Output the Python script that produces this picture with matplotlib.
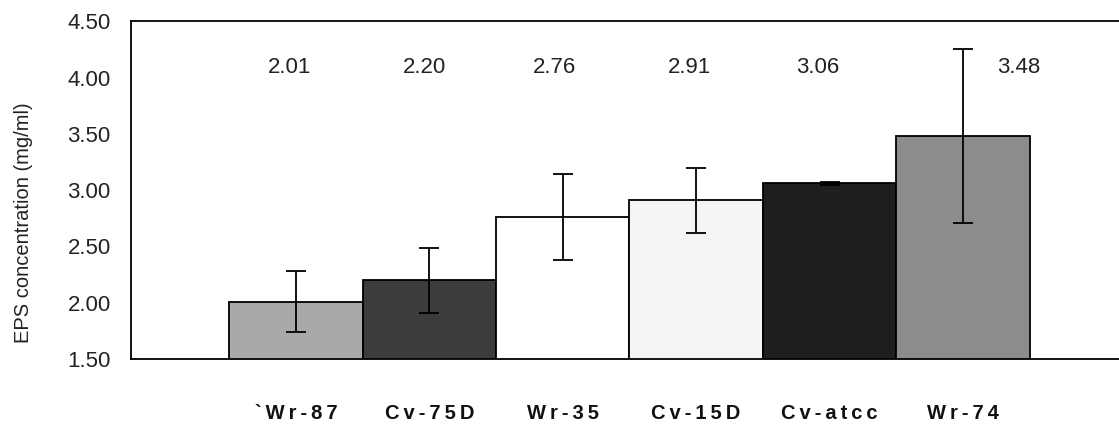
import matplotlib
matplotlib.use("Agg")
import matplotlib.pyplot as plt
import numpy as np

plt.rcParams['font.family'] = ['Liberation Sans', 'DejaVu Sans']

# data
strains = ['`Wr-87', 'Cv-75D', 'Wr-35', 'Cv-15D', 'Cv-atcc', 'Wr-74']
eps_mean = [2.01, 2.20, 2.76, 2.91, 3.06, 3.48]
eps_err = [0.27, 0.29, 0.38, 0.29, 0.01, 0.77]
bar_colors = ['#a9a9a9', '#3c3c3c', '#ffffff', '#f4f4f4', '#1e1e1e', '#8c8c8c']
label_shift = [-0.05, -0.04, -0.06, -0.05, -0.09, 0.42]  # value labels sit a bit off centre

fig = plt.figure(figsize=(11.19, 4.24), dpi=100)
ax = fig.add_axes([0.1175, 0.153, 0.8825, 0.797])

x = np.arange(len(strains))
ax.bar(x, eps_mean, width=1.0, bottom=0, color=bar_colors,
       edgecolor='black', linewidth=1.3, zorder=2)
ax.errorbar(x, eps_mean, yerr=eps_err, fmt='none', ecolor='black',
            elinewidth=1.3, capsize=7, capthick=1.3, zorder=3)

for xi, v, dx in zip(x, eps_mean, label_shift):
    ax.text(xi + dx, 4.085, f'{v:.2f}', ha='center', va='center', fontsize=16,
            color='#222222')

ax.set_xlim(-1.233, 6.17)
ax.set_ylim(1.5, 4.5)
yt = np.arange(1.5, 4.51, 0.5)
ax.set_yticks(yt)
ax.set_yticklabels([f'{t:.2f}' for t in yt], fontsize=16, color='#222222')
ax.set_xticks(x)
# the original labels are letter-spaced
ax.set_xticklabels(['\u2009'.join(s) for s in strains], fontsize=14.5,
                   fontweight='bold', color='#111111')
ax.tick_params(axis='y', length=0, pad=15)
ax.tick_params(axis='x', length=0, pad=32)
ax.set_ylabel('EPS concentration (mg/ml)', fontsize=14.5, color='#222222')
ax.yaxis.set_label_coords(-0.1, 0.405)

ax.spines['right'].set_visible(False)
for s in ['left', 'top', 'bottom']:
    ax.spines[s].set_linewidth(1.3)

fig.savefig('out.png', dpi=100)
